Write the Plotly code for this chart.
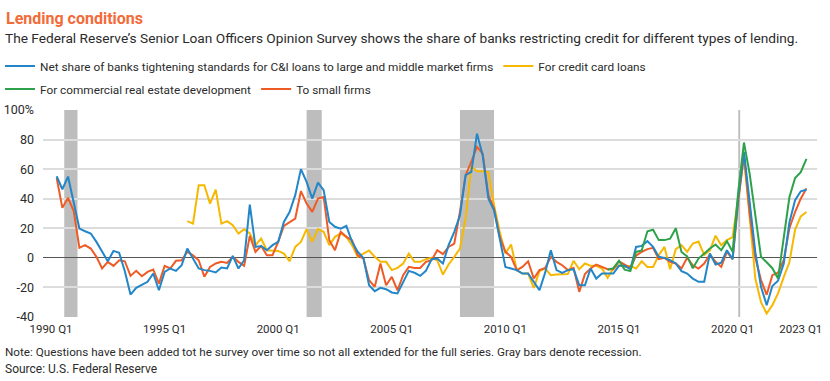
import plotly.graph_objects as go

# ---------------- data ----------------
ci_large_start = "1990 Q2"
ci_large = [55.2, 46.4, 55, 37, 19.8, 18, 16.5, 10.8, 4, -2.3, 4.7, 3.4, -9, -24.8, -20.3, -18.5,
            -16.2, -10.6, -21.9, -9.5, -7.2, -8.8, -5, 6.3, -0.5, -7.2, -8.3, -8.8, -9.9, -6.5,
            -7.2, 1.4, -7.2, -1.6, 36, 7.4, 8, 5.2, 8.6, 10.8, 24.3, 31, 42.4, 60, 51.4, 40.1,
            50.9, 45.8, 24.3, 21, 19.8, 21.6, 10.8, 4.1, 0, -18.5, -22.5, -20.3, -21.2, -23.4,
            -24.1, -16.2, -8.8, -10.1, -12.2, -8.8, -0.9, -0.5, -3.8, 8.6, 17.6, 28.8, 55.9,
            58.1, 84, 69.4, 40.1, 32.2, 13.1, -6.1, -7.2, -8.3, -10.6, -10.6, -16.2, -21.9, -10,
            5.2, -8.3, -10.1, -8.3, -7.7, -18.5, -18.5, -7.2, -14, -10.6, -10.6, -10.6, -5.4,
            -5.4, -7.7, 7.4, 8.1, 11.3, 7.4, 0.7, 0, -1.6, -3.8, -9, -10.6, -14, -16.2, -16.2,
            2.9, -4.5, -3.2, 5.2, -0.9, 41, 71.7, 38, 4, -19.6, -32, -19, -15.5, -4, 24, 39, 45, 46]

small_firms_start = "1990 Q2"
small_firms = [54, 33.8, 40.6, 31.6, 6.8, 8.6, 6.3, 0.7, -7.2, -2.7, -5.4, -1.6, -2.3, -12.2, -8.8,
               -12.4, -9.5, -7.9, -17.4, -5.4, -7.2, -2, -1.6, 4.1, 1.8, -1.6, -12.8, -6.1, -3.8,
               -2.7, -3.4, 0.7, -2.7, -5.4, 14.9, 4.1, 8, 1.8, 1.8, 10.8, 21.6, 23.9, 26.6, 45.1,
               36.7, 31.1, 40.1, 41.2, 11.9, 5.2, 17.6, 14.2, 11.9, 1.8, -0.5, -15.1, -19.6, -3.8,
               -18.5, -12.8, -21.9, -11.7, -6.1, -6.8, -6.8, -2.7, -1.6, 5.2, 2.5, 7.4, 9.7, 31.1,
               55.9, 65, 75, 70.5, 42.4, 33.4, 14.2, 4.1, 0.7, -8.3, -6.1, -2.3, -14, -8.3, -6.8,
               0.7, -2.7, -5, -8.3, -6.8, -23, -11, -7.2, -4.5, -6.1, -7.7, -7.7, -2.3, -4.5,
               -6.8, 1.4, 4.1, 5.9, 6.8, -0.9, 0, -2.7, -3.8, -7.2, 0, -5, -7.2, -3.8, 2.3, -2.7,
               -6.1, 4.1, -0.9, 38, 70, 30, 0, -15, -25, -11.7, -10, -1.6, 20, 31, 40, 47]

credit_card_start = "1996 Q1"
credit_card = [24.8, 23.2, 49.1, 49.1, 36.7, 46.2, 23.2, 24.8, 22.1, 16.5, 19.4, 16.5, 8.6, 13.1,
               5.2, 4.7, 4.7, 2.9, -2.3, 7.4, 10.8, 19.4, 10.8, 19.4, 17.6, 8.6, 14.2, 16.5, 14.2,
               8.6, 0.7, 2.9, 5, 0.7, -2.7, -2.7, -8.3, -6.8, -3.8, 2.9, -2.7, -2.7, -0.9, 0,
               -1.6, -11.3, -4.5, 0.7, 6.3, 27, 62, 58.6, 58.6, 58, 35.6, 17.6, 2.9, 9, -8.3,
               -10.6, -10.6, -20.3, -9, -7.2, -11.7, -11.3, -11, -11, -2, -7.7, -3.8, -5.4, -5.4,
               -7.2, -13.5, -7.2, -5, -6.1, -5.4, -7.2, -2.3, -6.1, -6.1, 1.8, 7.4, -7.7, 5.9,
               8.6, 4.1, 9.7, 11, 2, 5, 15, 8.6, 12, 14, 40, 68, 28, -14, -30, -37.6, -32, -24,
               -13, -3, 19, 28, 31]

cre_dev_start = "2014 Q3"
cre_dev = [-8, -7, -2, -8, -9, 4, 5, 18, 19, 12, 12, 13, 20, 4, 1, -7, -0.5, 2.9, 6.3, 9, 5.2,
           11.3, 4.1, 45, 78, 57, 28, 0.7, -3, -7, -14, 12, 41, 54, 58, 67]

recession_spans = [("1990-08", "1991-03"), ("2001-04", "2001-12"),
                   ("2008-01", "2009-07"), ("2020-04", "2020-05")]

tick_labels = ["1990 Q1", "1995 Q1", "2000 Q1", "2005 Q1", "2010 Q1", "2015 Q1", "2020 Q1", "2023 Q1"]
y_ticks = [-40, -20, 0, 20, 40, 60, 80, 100]
y_tick_labels = ["-40", "-20", "0", "20", "40", "60", "80", "100%"]

series_names = [
    "Net share of banks tightening standards for C&I loans to large and middle market firms",
    "For credit card loans",
    "For commercial real estate development",
    "To small firms",
]

# ---------------- helpers ----------------
def q_to_num(label):
    y, q = label.split(" Q")
    return int(y) + (int(q) - 1) / 4


def quarter_x(start_label, n):
    s = q_to_num(start_label)
    return [s + k * 0.25 for k in range(n)]


def month_to_num(s):
    y, m = s.split("-")
    return int(y) + (int(m) - 1) / 12


W, H = 830, 381
FONT = "Roboto, 'Noto Sans', sans-serif"
TEXT = "#2b2b2b"
BLUE = "#2386c8"
YELLOW = "#f6b800"
GREEN = "#2ea24a"
ORANGE = "#ef5b25"

fig = go.Figure()
# drawing order: yellow, orange, blue, green (legend order set by legendrank)
fig.add_trace(go.Scatter(x=quarter_x(credit_card_start, len(credit_card)), y=credit_card, mode="lines",
                         name=series_names[1], line=dict(color=YELLOW, width=2),
                         legend="legend", legendrank=2))
fig.add_trace(go.Scatter(x=quarter_x(small_firms_start, len(small_firms)), y=small_firms, mode="lines",
                         name=series_names[3], line=dict(color=ORANGE, width=2),
                         legend="legend2", legendrank=4))
fig.add_trace(go.Scatter(x=quarter_x(ci_large_start, len(ci_large)), y=ci_large, mode="lines",
                         name=series_names[0], line=dict(color=BLUE, width=2),
                         legend="legend", legendrank=1))
fig.add_trace(go.Scatter(x=quarter_x(cre_dev_start, len(cre_dev)), y=cre_dev, mode="lines",
                         name=series_names[2], line=dict(color=GREEN, width=2),
                         legend="legend2", legendrank=3))

shapes = []
for a, b in recession_spans:
    shapes.append(dict(type="rect", xref="x", yref="paper", x0=month_to_num(a), x1=month_to_num(b),
                       y0=0, y1=1, fillcolor="#bdbdbd", line=dict(width=0), layer="below"))

legend_common = dict(orientation="h", bgcolor="rgba(0,0,0,0)", borderwidth=0,
                     font=dict(family=FONT, size=11.8, color=TEXT), itemwidth=30,
                     xref="container", yref="container",
                     xanchor="left", yanchor="middle", traceorder="normal")

fig.update_layout(
    width=W, height=H,
    margin=dict(l=43, r=13, t=110, b=64, autoexpand=False),
    paper_bgcolor="white", plot_bgcolor="white",
    font=dict(family=FONT, size=12, color=TEXT),
    title=dict(text="<b>Lending conditions</b>", xref="container", yref="container",
               x=6 / W, y=1 - 18 / H, xanchor="left", yanchor="middle",
               font=dict(family=FONT, size=16, color="#f26b38")),
    shapes=shapes,
    showlegend=True,
    legend=dict(x=-12 / W, y=1 - 66 / H, **legend_common),
    legend2=dict(x=-12 / W, y=1 - 89 / H, **legend_common),
    xaxis=dict(range=[1989.648, 2023.715], tickvals=[q_to_num(t) for t in tick_labels],
               ticktext=tick_labels, showgrid=False, zeroline=False, showline=False,
               ticks="", automargin=False, ticklabelstandoff=3,
               tickfont=dict(family=FONT, size=11.5, color=TEXT)),
    yaxis=dict(range=[-40, 100], tickvals=y_ticks, ticktext=y_tick_labels,
               showgrid=True, gridcolor="#dcdcdc", gridwidth=1.5,
               zeroline=True, zerolinecolor="#555555", zerolinewidth=1.2,
               showline=False, ticks="", automargin=False, ticklabelstandoff=8,
               tickfont=dict(family=FONT, size=12.5, color=TEXT)),
    annotations=[
        dict(text="The Federal Reserve\u2019s Senior Loan Officers Opinion Survey shows the share of banks "
                  "restricting credit for different types of lending.",
             xref="paper", yref="paper", x=-40 / 774, y=(317 - 38) / 207, xanchor="left",
             yanchor="middle", showarrow=False, font=dict(family=FONT, size=13.7, color=TEXT)),
        dict(text="Note: Questions have been added tot he survey over time so not all extended for the "
                  "full series. Gray bars denote recession.",
             xref="paper", yref="paper", x=-40 / 774, y=(317 - 352) / 207, xanchor="left",
             yanchor="middle", showarrow=False, font=dict(family=FONT, size=11.7, color=TEXT)),
        dict(text="Source: U.S. Federal Reserve",
             xref="paper", yref="paper", x=-40 / 774, y=(317 - 369) / 207, xanchor="left",
             yanchor="middle", showarrow=False, font=dict(family=FONT, size=12, color=TEXT)),
    ],
)

fig.write_html("out.html", config={"displayModeBar": False},
               post_script="document.body.style.margin='0';")
